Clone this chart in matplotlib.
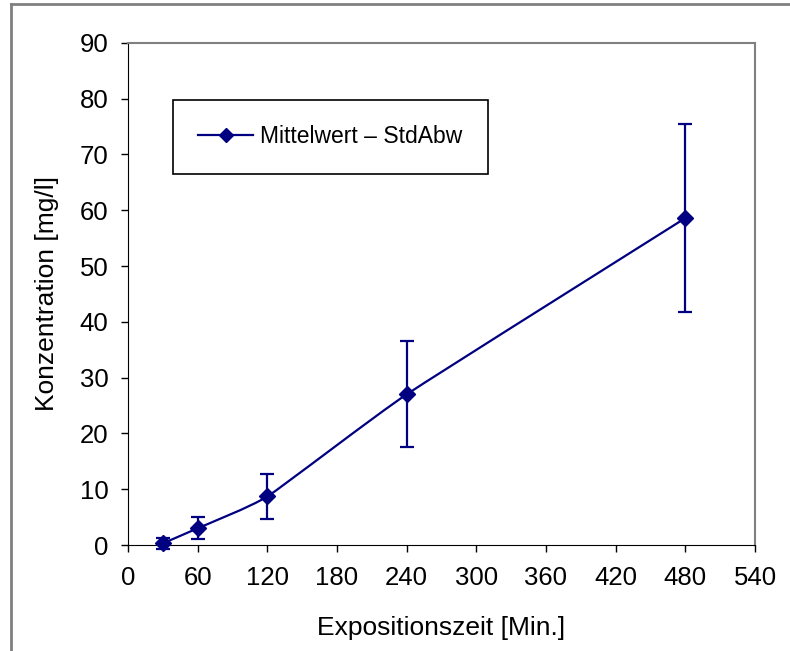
import numpy as np
import matplotlib.pyplot as plt
from matplotlib.path import Path
from matplotlib.patches import PathPatch
from matplotlib.lines import Line2D

plt.rcParams['font.family'] = ['Liberation Sans', 'DejaVu Sans']

# data
zeit = [30, 60, 120, 240, 480]
mittelwert = [0.3, 3.0, 8.7, 27.0, 58.6]
stdabw = [1.0, 2.0, 4.0, 9.5, 16.8]

farbe = '#000080'

fig = plt.figure(figsize=(7.9, 6.51), dpi=100)
ax = fig.add_axes([0.162, 0.1628, 0.7937, 0.7713])

# smoothed line like Excel (soft Catmull-Rom as Bezier curves)
pts = np.column_stack([zeit, mittelwert])
n = len(pts)
t = 0.45
verts = [pts[0]]
codes = [Path.MOVETO]
for i in range(n - 1):
    p0 = pts[max(i - 1, 0)]
    p1 = pts[i]
    p2 = pts[i + 1]
    p3 = pts[min(i + 2, n - 1)]
    c1 = p1 + (p2 - p0) / 6 * t
    c2 = p2 - (p3 - p1) / 6 * t
    verts += [c1, c2, p2]
    codes += [Path.CURVE4] * 3
ax.add_patch(PathPatch(Path(verts, codes), facecolor='none', edgecolor=farbe,
                       lw=1.6, zorder=2))

ax.errorbar(zeit, mittelwert, yerr=stdabw, fmt='D', color=farbe, ms=8.5,
            ecolor=farbe, elinewidth=1.6, capsize=5.3, capthick=1.6, zorder=3,
            clip_on=False)

ax.set_xlim(0, 540)
ax.set_ylim(0, 90)
ax.set_xticks(np.arange(0, 541, 60))
ax.set_yticks(np.arange(0, 91, 10))
ax.tick_params(direction='out', length=5, width=1, labelsize=18.5, pad=9)
ax.tick_params(axis='x', pad=10)

for s in ['left', 'bottom']:
    ax.spines[s].set_color('black')
for s in ['top', 'right']:
    ax.spines[s].set_color('#808080')
    ax.spines[s].set_linewidth(1.5)

ax.set_xlabel('Expositionszeit [Min.]', fontsize=19, labelpad=19)
ax.set_ylabel('Konzentration [mg/l]', fontsize=19, labelpad=15)

handle = Line2D([], [], color=farbe, marker='D', ms=7.5, lw=1.6)
leg = ax.legend([handle], ['Mittelwert – StdAbw'], loc='upper left',
                bbox_to_anchor=(0.072, 0.886), fancybox=False, framealpha=1,
                edgecolor='black', fontsize=16.5, borderpad=1.1,
                handlelength=2.4, handletextpad=0.3, borderaxespad=0)
leg.get_frame().set_linewidth(1.2)

# outer chart frame (left and top only)
fig.add_artist(Line2D([11 / 790, 11 / 790], [0, 1 - 4 / 651], color='#808080',
                      lw=2, transform=fig.transFigure))
fig.add_artist(Line2D([11 / 790, 1], [1 - 4 / 651, 1 - 4 / 651], color='#808080',
                      lw=2, transform=fig.transFigure))

fig.savefig('out.png', dpi=100)
